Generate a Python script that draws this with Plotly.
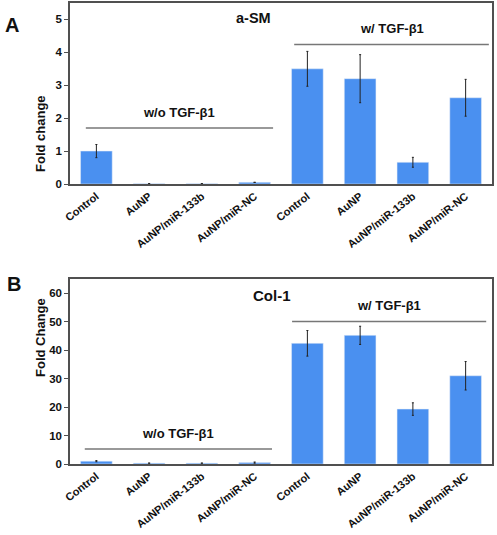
import plotly.graph_objects as go

categories = ["Control", "AuNP", "AuNP/miR-133b", "AuNP/miR-NC",
              "Control", "AuNP", "AuNP/miR-133b", "AuNP/miR-NC"]
asm_values = [1.0, 0.01, 0.01, 0.05, 3.5, 3.2, 0.66, 2.62]
asm_errors = [0.2, 0.0, 0.0, 0.0, 0.53, 0.73, 0.15, 0.56]
col1_values = [1.0, 0.3, 0.3, 0.5, 42.4, 45.2, 19.3, 31.0]
col1_errors = [0.2, 0.0, 0.0, 0.2, 4.5, 3.2, 2.2, 5.0]
group_labels = ["w/o TGF-β1", "w/ TGF-β1"]

FONT = "Liberation Sans, Arial, sans-serif"
BLUE = "#4a90f0"
FRAME = "#505050"
xs = list(range(len(categories)))

fig = go.Figure()
fig.add_trace(go.Bar(x=xs, y=asm_values, width=0.6, marker_color=BLUE,
                     error_y=dict(type="data", array=asm_errors, color="#222", thickness=1, width=1),
                     xaxis="x", yaxis="y", showlegend=False))
fig.add_trace(go.Bar(x=xs, y=col1_values, width=0.6, marker_color=BLUE,
                     error_y=dict(type="data", array=col1_errors, color="#222", thickness=1, width=1),
                     xaxis="x2", yaxis="y2", showlegend=False))

L, R, T, B = 70, 5, 3, 5
W = 497 - L - R
H = 535 - T - B
def py(pix):
    return (535 - B - pix) / H
def px(pix):
    return (pix - L) / W

xcommon = dict(range=[-0.5, 7.5], tickvals=xs, ticktext=[f"<b>{c}</b>" for c in categories],
               tickangle=-38, ticks="", showline=True, linecolor=FRAME, linewidth=1.5, mirror=True,
               tickfont=dict(family=FONT, size=11, color="#111"), automargin=False,
               showgrid=False, zeroline=False)
ycommon = dict(showline=True, linecolor=FRAME, linewidth=1.5, mirror=True, ticks="outside",
               ticklen=4, tickcolor=FRAME, showgrid=False, zeroline=False, automargin=False,
               tickfont=dict(family=FONT, size=11.5, color="#111"))

fig.update_layout(
    width=497, height=535, margin=dict(l=L, r=R, t=T, b=B),
    plot_bgcolor="white", paper_bgcolor="white", bargap=0.4,
    xaxis=dict(**xcommon, anchor="y", domain=[0, 1]),
    xaxis2=dict(**xcommon, anchor="y2", domain=[0, 1]),
    yaxis=dict(**ycommon, range=[0, 5.5], tickvals=[0, 1, 2, 3, 4, 5],
               ticktext=[f"<b>{v}</b>" for v in [0, 1, 2, 3, 4, 5]],
               domain=[py(184), py(3)], anchor="x"),
    yaxis2=dict(**ycommon, range=[0, 65], tickvals=[0, 10, 20, 30, 40, 50, 60],
                ticktext=[f"<b>{v}</b>" for v in [0, 10, 20, 30, 40, 50, 60]],
                domain=[py(464), py(279)], anchor="x2"),
)

def grp(xref, yref, x0, x1, yline, label, ylabel_shift):
    fig.add_shape(type="line", xref=xref, yref=yref, x0=x0, x1=x1, y0=yline, y1=yline,
                  line=dict(color="#777", width=1.5))
    fig.add_annotation(xref=xref, yref=yref, x=(x0 + x1) / 2, y=yline, text=f"<b>{label}</b>",
                       showarrow=False, yshift=ylabel_shift, yanchor="bottom",
                       font=dict(family=FONT, size=13, color="#111"))

grp("x", "y", -0.2, 3.35, 1.7, group_labels[0], 6)
grp("x", "y", 3.75, 7.44, 4.24, group_labels[1], 6)
grp("x2", "y2", -0.22, 3.33, 5.3, group_labels[0], 6)
grp("x2", "y2", 3.71, 7.39, 50.1, group_labels[1], 6)

fig.add_annotation(xref="x", yref="y", x=2.97, y=5.03, text="<b>a-SM</b>", showarrow=False,
                   font=dict(family=FONT, size=14.5, color="#111"))
fig.add_annotation(xref="x2", yref="y2", x=3.33, y=59.3, text="<b>Col-1</b>", showarrow=False,
                   font=dict(family=FONT, size=15, color="#111"))

for ytxt, txt in [(93, "Fold change"), (379, "Fold Change")]:
    fig.add_annotation(xref="paper", yref="paper", x=px(31), y=py(ytxt), text=f"<b>{txt}</b>",
                       textangle=-90, showarrow=False,
                       font=dict(family=FONT, size=13, color="#111"))

fig.add_annotation(xref="paper", yref="paper", x=px(3), y=py(12), xanchor="left",
                   text="<b>A</b>", showarrow=False, font=dict(family=FONT, size=20, color="#111"))
fig.add_annotation(xref="paper", yref="paper", x=px(5), y=py(284), xanchor="left",
                   text="<b>B</b>", showarrow=False, font=dict(family=FONT, size=20, color="#111"))

fig.write_html("out.html", config={"displayModeBar": False},
               post_script="document.body.style.margin='0';document.body.style.padding='0';")
